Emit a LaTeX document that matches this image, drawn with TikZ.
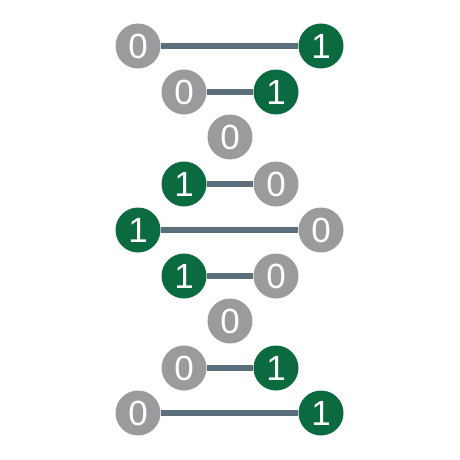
\documentclass[tikz,border=0pt]{standalone}
\usepackage{fontspec}
\setmainfont{Liberation Sans}
\definecolor{bitgray}{HTML}{9A9B9D}
\definecolor{bitgreen}{HTML}{0B6A3F}
\definecolor{rung}{HTML}{5B6E7B}
\begin{document}
\begin{tikzpicture}[x=1pt,y=-1pt,
  bit/.style={circle,minimum size=45pt,inner sep=0pt,text=white,font=\fontsize{35}{35}\selectfont},
  zero/.style={bit,fill=bitgray},
  one/.style={bit,fill=bitgreen},
  rungline/.style={draw=rung,line width=5.5pt}]
\useasboundingbox (0,0) rectangle (460,460);
% row 1
\node[zero] (a1) at (138,46) {0};
\node[one]  (b1) at (321,46) {1};
% row 2
\node[zero] (a2) at (184,92) {0};
\node[one]  (b2) at (276,92) {1};
% row 3
\node[zero] (c3) at (230,137) {0};
% row 4
\node[one]  (a4) at (184,184) {1};
\node[zero] (b4) at (276,184) {0};
% row 5
\node[one]  (a5) at (138,230) {1};
\node[zero] (b5) at (321,230) {0};
% row 6
\node[one]  (a6) at (184,276) {1};
\node[zero] (b6) at (276,276) {0};
% row 7
\node[zero] (c7) at (230,321) {0};
% row 8
\node[zero] (a8) at (184,368) {0};
\node[one]  (b8) at (276,368) {1};
% row 9
\node[zero] (a9) at (138,413) {0};
\node[one]  (b9) at (321,413) {1};
\foreach \r in {1,2,4,5,6,8,9}{
  \draw[rungline] (a\r) -- (b\r);
}
\end{tikzpicture}
\end{document}
